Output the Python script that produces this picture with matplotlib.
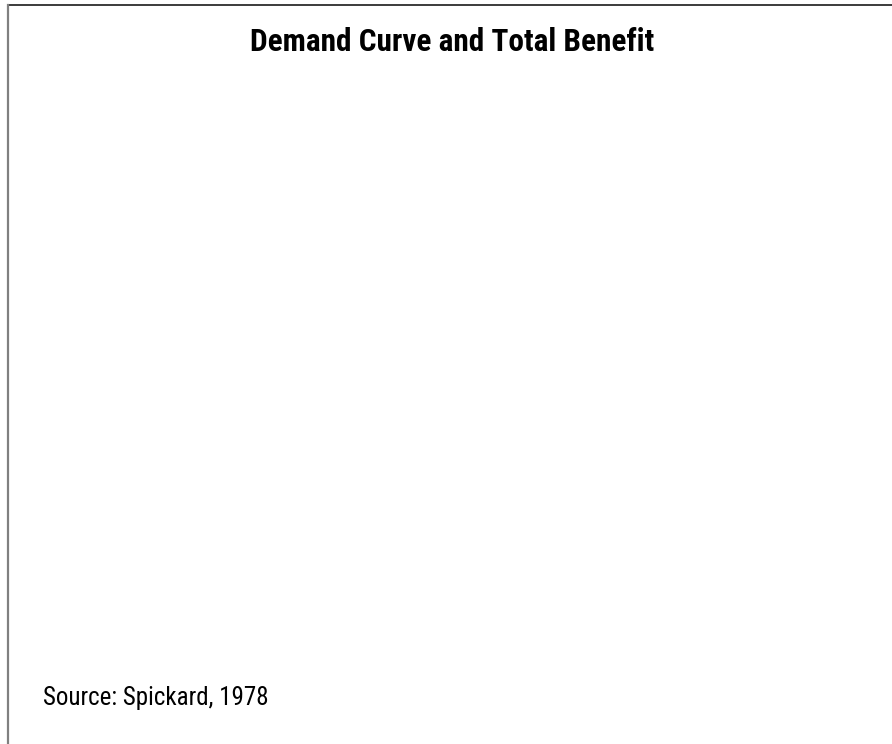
import matplotlib
matplotlib.use('Agg')
import matplotlib.pyplot as plt
from matplotlib.lines import Line2D

# 图中只有标题和来源，没有数据
title = 'Demand Curve and Total Benefit'
source = 'Source: Spickard, 1978'

fig = plt.figure(figsize=(8.92, 7.44), dpi=100)
fig.patch.set_facecolor('white')

W, H = 892, 744

def px(x, y):
    return x / W, 1 - y / H

# 边框：上边深色，左边灰色
x0, y0 = px(8, 4.5)
x1, _ = px(892, 4.5)
_, y1 = px(8, 744)
fig.add_artist(Line2D([x0, x1], [y0, y0], color='#1a1a1a', lw=1.2, transform=fig.transFigure))
fig.add_artist(Line2D([x0, x0], [y0, y1], color='#808080', lw=1.6, transform=fig.transFigure))

fonts = ['Roboto Condensed', 'Liberation Sans', 'DejaVu Sans']

tx, ty = px(452, 51)
fig.text(tx, ty, title, ha='center', va='baseline', fontsize=22.5,
         fontweight=600, family=fonts)

sx, sy = px(43, 705)
fig.text(sx, sy, source, ha='left', va='baseline', fontsize=18, family=fonts)

fig.savefig('out.png', dpi=100)
plt.close(fig)
